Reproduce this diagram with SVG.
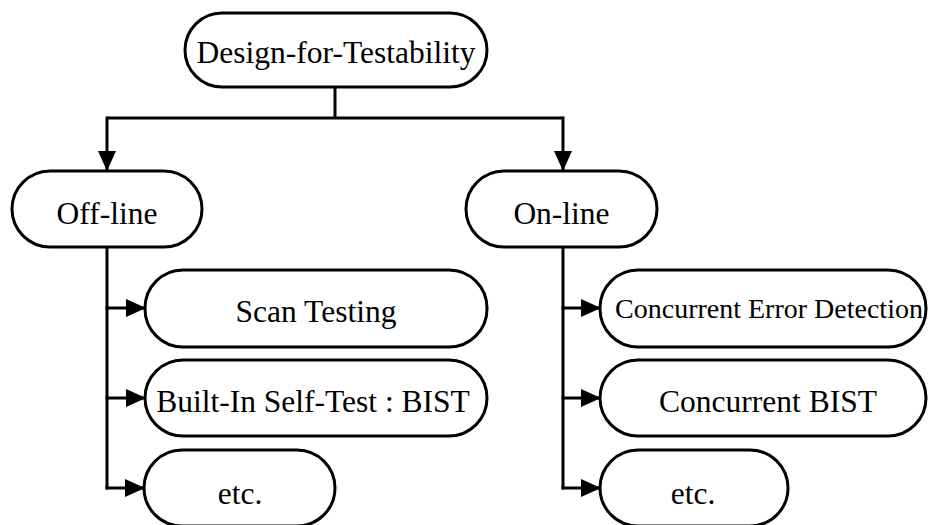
<svg xmlns="http://www.w3.org/2000/svg" width="928" height="525" viewBox="0 0 928 525">
  <style>
    .node rect { fill: #ffffff; stroke: #000000; stroke-width: 3; }
    .node text { font-family: "Liberation Serif", "Times New Roman", serif; font-size: 31.5px; fill: #000000; text-anchor: middle; }
    .node text.small { font-size: 28px; }
    .wire { fill: none; stroke: #000000; stroke-width: 3; }
  </style>
  <defs>
    <marker id="arrow" markerUnits="userSpaceOnUse" viewBox="0 0 20 18" refX="20" refY="9" markerWidth="20" markerHeight="18" orient="auto">
      <path d="M0,0 L20,9 L0,18 Z" fill="#000000"/>
    </marker>
  </defs>
  <rect width="928" height="525" fill="#ffffff"/>

  <g id="connectors">
    <!-- root to the two branches -->
    <path class="wire" d="M335,87 V118"/>
    <path class="wire" d="M107,118 H563"/>
    <path class="wire" d="M107,116.5 V171" marker-end="url(#arrow)"/>
    <path class="wire" d="M563,116.5 V171" marker-end="url(#arrow)"/>
    <!-- off-line branch -->
    <path class="wire" d="M107,247 V489.5"/>
    <path class="wire" d="M105.5,308 H146" marker-end="url(#arrow)"/>
    <path class="wire" d="M105.5,398 H146" marker-end="url(#arrow)"/>
    <path class="wire" d="M105.5,488 H145" marker-end="url(#arrow)"/>
    <!-- on-line branch -->
    <path class="wire" d="M563,247 V489.5"/>
    <path class="wire" d="M561.5,308 H601" marker-end="url(#arrow)"/>
    <path class="wire" d="M561.5,398 H601" marker-end="url(#arrow)"/>
    <path class="wire" d="M561.5,488 H601" marker-end="url(#arrow)"/>
  </g>

  <g id="dft" class="node">
    <rect x="185" y="13" width="302" height="74" rx="37"/>
    <text x="336" y="63">Design-for-Testability</text>
  </g>
  <g id="offline" class="node">
    <rect x="12" y="171" width="190" height="76" rx="38"/>
    <text x="107" y="224">Off-line</text>
  </g>
  <g id="online" class="node">
    <rect x="466" y="171" width="191" height="76" rx="38"/>
    <text x="561.5" y="224">On-line</text>
  </g>
  <g id="scan" class="node">
    <rect x="145" y="270" width="342" height="77" rx="38"/>
    <text x="316" y="322">Scan Testing</text>
  </g>
  <g id="bist" class="node">
    <rect x="145" y="360" width="342" height="76" rx="38"/>
    <text x="313" y="412">Built-In Self-Test : BIST</text>
  </g>
  <g id="offline-etc" class="node">
    <rect x="144" y="450" width="191" height="76" rx="38"/>
    <text x="240" y="504">etc.</text>
  </g>
  <g id="ced" class="node">
    <rect x="600" y="270" width="326" height="77" rx="38"/>
    <text class="small" x="769" y="318">Concurrent Error Detection</text>
  </g>
  <g id="cbist" class="node">
    <rect x="600" y="360" width="326" height="76" rx="38"/>
    <text x="768" y="412">Concurrent BIST</text>
  </g>
  <g id="online-etc" class="node">
    <rect x="600" y="450" width="188" height="76" rx="38"/>
    <text x="693" y="504">etc.</text>
  </g>
</svg>
